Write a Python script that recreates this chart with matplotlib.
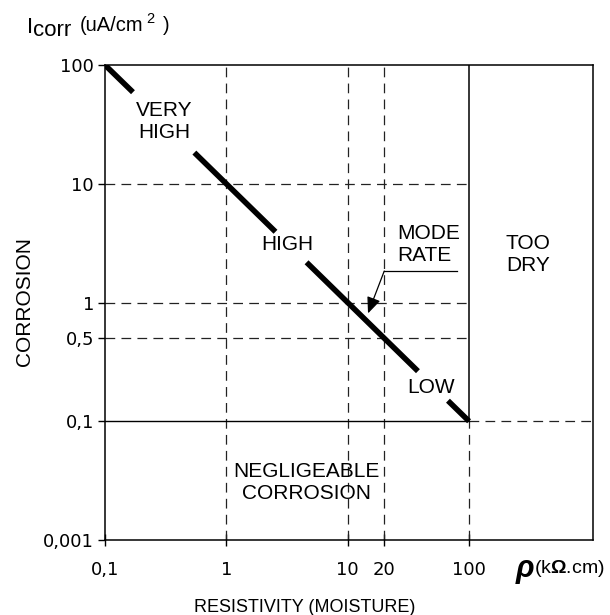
import matplotlib
matplotlib.use("Agg")
import matplotlib.pyplot as plt

plt.rcParams['font.family'] = ['Liberation Sans', 'DejaVu Sans']
plt.rcParams['lines.scale_dashes'] = False
plt.rcParams['mathtext.fontset'] = 'custom'
plt.rcParams['mathtext.rm'] = 'Liberation Sans'
plt.rcParams['mathtext.bf'] = 'Liberation Sans:bold'

# ---- data ----
x_ticks = [0.1, 1, 10, 20, 100]
x_tick_labels = ['0,1', '1', '10', '20', '100']
# axis is broken below 0.1: the lowest tick (drawn one decade down) is labelled 0,001
y_ticks = [100, 10, 1, 0.5, 0.1, 0.01]
y_tick_labels = ['100', '10', '1', '0,5', '0,1', '0,001']
x_limits = (0.1, 1050)
y_limits = (0.01, 100)

# thick threshold line (broken where labels sit)
seg_x = [(0.1, 0.17), (0.545, 2.54), (4.58, 37.9), (67, 100)]
seg_y = [(100, 59.0), (18.3, 3.94), (2.18, 0.264), (0.149, 0.1)]

dashed_v = [1, 10, 20]
dashed_h = [10, 1, 0.5]
limit_rho = 100
limit_i = 0.1

zone_labels = ['VERY\nHIGH', 'HIGH', 'MODE\nRATE', 'LOW', 'TOO\nDRY', 'NEGLIGEABLE\nCORROSION']
zone_x = [0.306, 3.16, 25.5, 48.7, 307, 4.54]
zone_y = [33.7, 3.1, 3.05, 0.194, 2.56, 0.0307]
zone_ha = ['center', 'center', 'left', 'center', 'center', 'center']

# ---- figure ----
W, H = 610, 615
fig = plt.figure(figsize=(W / 100, H / 100), dpi=100)
ax = fig.add_axes([105 / W, 1 - 540 / H, (593 - 105) / W, (540 - 65) / H])
ax.set_xscale('log')
ax.set_yscale('log')
ax.set_xlim(*x_limits)
ax.set_ylim(*y_limits)

dash = (7.0, 4.5)
gc = '#222222'
glw = 0.9
for xv in dashed_v:
    ax.plot([xv, xv], [y_limits[0], y_limits[1]], color=gc, lw=glw, dashes=dash)
for yv in dashed_h:
    ax.plot([x_limits[0], limit_rho], [yv, yv], color=gc, lw=glw, dashes=dash)
ax.plot([limit_rho, x_limits[1]], [limit_i, limit_i], color=gc, lw=glw, dashes=dash)
ax.plot([limit_rho, limit_rho], [y_limits[0], limit_i], color=gc, lw=glw, dashes=dash)
ax.plot([x_limits[0], limit_rho], [limit_i, limit_i], color='black', lw=1.0)
ax.plot([limit_rho, limit_rho], [limit_i, y_limits[1]], color='black', lw=1.1)

for sx, sy in zip(seg_x, seg_y):
    ax.plot(sx, sy, color='black', lw=4.0, solid_capstyle='butt')

fs = 15
for lab, xx, yy, ha in zip(zone_labels, zone_x, zone_y, zone_ha):
    ax.text(xx, yy, lab, ha=ha, va='center', fontsize=fs, linespacing=1.2)

# underline + arrow for MODERATE
ax.plot([20, 80], [1.84, 1.84], color='black', lw=0.9)
ax.annotate('', xy=(14.7, 0.81), xytext=(20, 1.84),
            arrowprops=dict(arrowstyle='-|>,head_length=0.7,head_width=0.3',
                            color='black', lw=0.9, shrinkA=0, shrinkB=0,
                            mutation_scale=14))

for s in ax.spines.values():
    s.set_linewidth(1.1)

ax.set_xticks(x_ticks)
ax.set_xticklabels(x_tick_labels)
ax.set_yticks(y_ticks)
ax.set_yticklabels(y_tick_labels)
ax.minorticks_off()
ax.tick_params(axis='x', direction='inout', length=8, width=1, labelsize=13, pad=11)
ax.tick_params(axis='y', direction='out', length=5, width=1, labelsize=13, pad=3)
for lbl in ax.get_xticklabels() + ax.get_yticklabels():
    lbl.set_family('DejaVu Sans')

# axis texts
fig.text(25 / W, 1 - 302 / H, 'CORROSION', rotation=90, ha='center', va='center', fontsize=15)
fig.text(305 / W, 1 - 608 / H, 'RESISTIVITY (MOISTURE)', ha='center', va='center', fontsize=13)

fig.text(516 / W, 1 - 577 / H, 'ρ', fontsize=22, fontweight='bold', style='italic',
         ha='left', va='baseline')
fig.text(534 / W, 1 - 573 / H, r'(k$\mathbf{\Omega}$.cm)', fontsize=14, ha='left', va='baseline')

fig.text(27 / W, 1 - 33 / H, 'I', fontsize=16, ha='left', va='baseline')
fig.text(33 / W, 1 - 36 / H, 'corr', fontsize=16, ha='left', va='baseline')
fig.text(80 / W, 1 - 31 / H, '(uA/cm', fontsize=14.5, ha='left', va='baseline')
fig.text(146 / W, 1 - 23 / H, '2', fontsize=10.5, ha='left', va='baseline')
fig.text(163 / W, 1 - 31 / H, ')', fontsize=14.5, ha='left', va='baseline')

fig.savefig('out.png', dpi=100)
